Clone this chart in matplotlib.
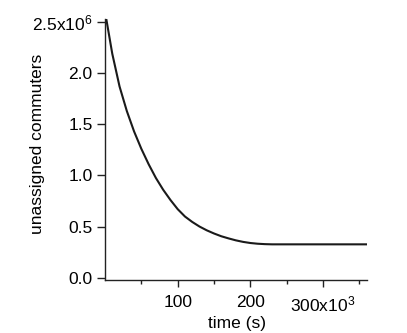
import matplotlib
matplotlib.use("Agg")
import matplotlib.pyplot as plt
from matplotlib.ticker import FixedLocator

plt.rcParams['font.family'] = ['Liberation Sans', 'DejaVu Sans']
plt.rcParams['mathtext.fontset'] = 'custom'
plt.rcParams['mathtext.rm'] = 'Liberation Sans'
plt.rcParams['mathtext.it'] = 'Liberation Sans:italic'
plt.rcParams['mathtext.bf'] = 'Liberation Sans:bold'

# time in thousands of seconds
time_k = [2, 10, 20, 30, 40, 50, 60, 70, 80, 90, 100, 110, 120, 130, 140, 150,
          160, 170, 180, 190, 200, 210, 220, 230, 240, 360]
# unassigned commuters in millions
commuters_m = [2.52, 2.19, 1.87, 1.63, 1.43, 1.26, 1.11, 0.975, 0.86, 0.76,
               0.67, 0.598, 0.545, 0.50, 0.463, 0.432, 0.405, 0.384, 0.365,
               0.35, 0.339, 0.332, 0.328, 0.326, 0.326, 0.326]

x_major = [100, 200, 300]
x_major_labels = ['100', '200', '300x10$^{3}$']
x_minor = [50, 150, 250, 350]
y_major = [0.0, 0.5, 1.0, 1.5, 2.0, 2.5]
y_major_labels = ['0.0', '0.5', '1.0', '1.5', '2.0', '2.5x10$^{6}$']

fig = plt.figure(figsize=(4.07, 3.33), dpi=100)
ax = fig.add_axes([0.258, 0.160, 0.643, 0.783])

ax.plot(time_k, commuters_m, color='#1a1a1a', lw=1.5)

ax.set_xlim(0, 360)
ax.set_ylim(-0.02, 2.53)
ax.spines['top'].set_visible(False)
ax.spines['right'].set_visible(False)
for s in ('left', 'bottom'):
    ax.spines[s].set_color('#222222')
    ax.spines[s].set_linewidth(1.0)

ax.xaxis.set_major_locator(FixedLocator(x_major))
ax.set_xticklabels(x_major_labels)
ax.xaxis.set_minor_locator(FixedLocator(x_minor))
ax.yaxis.set_major_locator(FixedLocator(y_major))
ax.set_yticklabels(y_major_labels)

ax.tick_params(axis='x', which='major', direction='out', length=5, width=1,
               labelsize=12.5, pad=6, color='#222222')
ax.tick_params(axis='x', which='minor', direction='out', length=3, width=1,
               color='#222222')
ax.tick_params(axis='y', which='major', direction='out', length=6, width=1,
               labelsize=12.5, pad=3, color='#222222')

ax.set_xlabel('time (s)', fontsize=12.5)
ax.xaxis.set_label_coords(0.503, -0.138)
ax.set_ylabel('unassigned commuters', fontsize=12.5)
ax.yaxis.set_label_coords(-0.229, 0.52)

fig.savefig('out.png', dpi=100)
